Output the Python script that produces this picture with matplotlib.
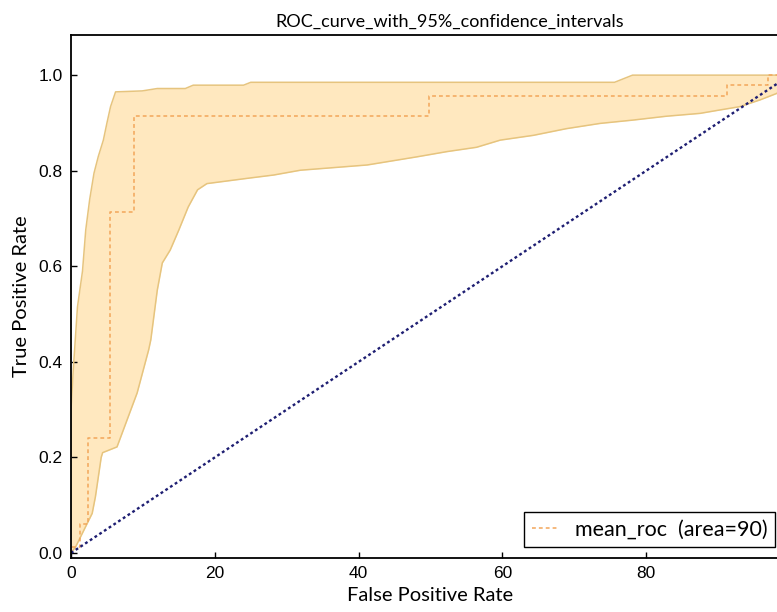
import matplotlib
matplotlib.use("Agg")
import numpy as np
import matplotlib.pyplot as plt

# mean ROC (false positive rate in %, true positive rate)
mean_fpr = [0, 0, 1.2, 1.2, 2.4, 2.4, 5.4, 5.4, 8.8, 8.8, 49.8, 49.8, 91.3, 91.3, 97.0, 97.0, 100]
mean_tpr = [0, 0.013, 0.013, 0.06, 0.06, 0.24, 0.24, 0.714, 0.714, 0.914, 0.914, 0.957, 0.957,
            0.979, 0.979, 1.0, 1.0]

# upper 95% bound
upper_fpr = [0, 0, 0.3, 0.9, 1.6, 2.05, 2.6, 3.2, 3.8, 4.5, 5.0, 5.5, 6.2, 9.9, 12.0, 15.9,
             17.0, 24.0, 25.0, 75.6, 78.1, 100]
upper_tpr = [0, 0.30, 0.38, 0.515, 0.59, 0.676, 0.74, 0.795, 0.83, 0.864, 0.90, 0.934, 0.965,
             0.967, 0.972, 0.972, 0.979, 0.979, 0.985, 0.985, 1.0, 1.0]

# lower 95% bound
lower_fpr = [0, 0.65, 2.95, 3.4, 4.2, 4.4, 6.4, 9.2, 10.8, 11.1, 12.0, 12.7, 13.8, 15.0, 16.3,
             17.6, 18.9, 24.5, 28.2, 31.9, 41.2, 48.1, 52.3, 56.4, 59.7, 64.3, 68.9, 73.6,
             78.2, 82.8, 87.5, 90.2, 93.0, 95.8, 98.2, 100]
lower_tpr = [0, 0.013, 0.083, 0.118, 0.2, 0.21, 0.222, 0.335, 0.425, 0.446, 0.55, 0.607, 0.634,
             0.676, 0.724, 0.76, 0.773, 0.784, 0.791, 0.801, 0.812, 0.829, 0.84, 0.849, 0.864,
             0.874, 0.888, 0.899, 0.906, 0.914, 0.92, 0.927, 0.934, 0.948, 0.962, 1.0]

chance_fpr = [0, 100]
chance_tpr = [0, 1]

auc = 90

fig = plt.figure(figsize=(7.77, 6.12), dpi=100)
# axes runs a little past the right edge of the picture, as in the reference
ax = fig.add_axes([71 / 777, 54 / 612, (790 - 71) / 777, (558 - 35) / 612])

# band between the two bounds on a shared grid
grid = np.union1d(np.array(upper_fpr), np.array(lower_fpr))
up = np.interp(grid, upper_fpr, upper_tpr)
lo = np.interp(grid, lower_fpr, lower_tpr)
ax.fill_between(grid, lo, up, color="orange", alpha=0.25, lw=0)
ax.plot(upper_fpr, upper_tpr, color="#E6C47E", lw=1.1)
ax.plot(lower_fpr, lower_tpr, color="#E6C47E", lw=1.1)

ax.plot(mean_fpr, mean_tpr, color="#F2A65A", lw=1.1, ls=(0, (2.5, 2)),
        label=f"mean_roc  (area={auc})")
ax.plot(chance_fpr, chance_tpr, color="#1E1E72", lw=1.7, ls=(0, (1.2, 1.2)))

ax.set_xlim(0, 100)
ax.set_ylim(-0.0105, 1.084)
ax.set_xticks([0, 20, 40, 60, 80])
ax.set_yticks([0.0, 0.2, 0.4, 0.6, 0.8, 1.0])
ax.tick_params(direction="in", length=4, width=1, labelsize=12.5, pad=6)
for lab in ax.get_xticklabels() + ax.get_yticklabels():
    lab.set_family("Liberation Sans")
for s in ax.spines.values():
    s.set_linewidth(1.3)
ax.spines["right"].set_visible(False)

ax.set_xlabel("False Positive Rate", fontsize=14.5, family="Lato", labelpad=4)
ax.set_ylabel("True Positive Rate", fontsize=14.5, family="Lato", labelpad=6)
ax.set_title("ROC_curve_with_95%_confidence_intervals", fontsize=13, family="Lato",
             x=(450 - 71) / (790 - 71), pad=6)

leg = ax.legend(loc="lower right", bbox_to_anchor=(775 / 777, 65 / 612),
                bbox_transform=fig.transFigure, fancybox=False, edgecolor="black",
                prop={"family": "Lato", "size": 15.5}, handlelength=1.2, borderpad=0.35,
                borderaxespad=0, framealpha=1)
leg.get_frame().set_linewidth(1.0)

fig.savefig("out.png", dpi=100)
